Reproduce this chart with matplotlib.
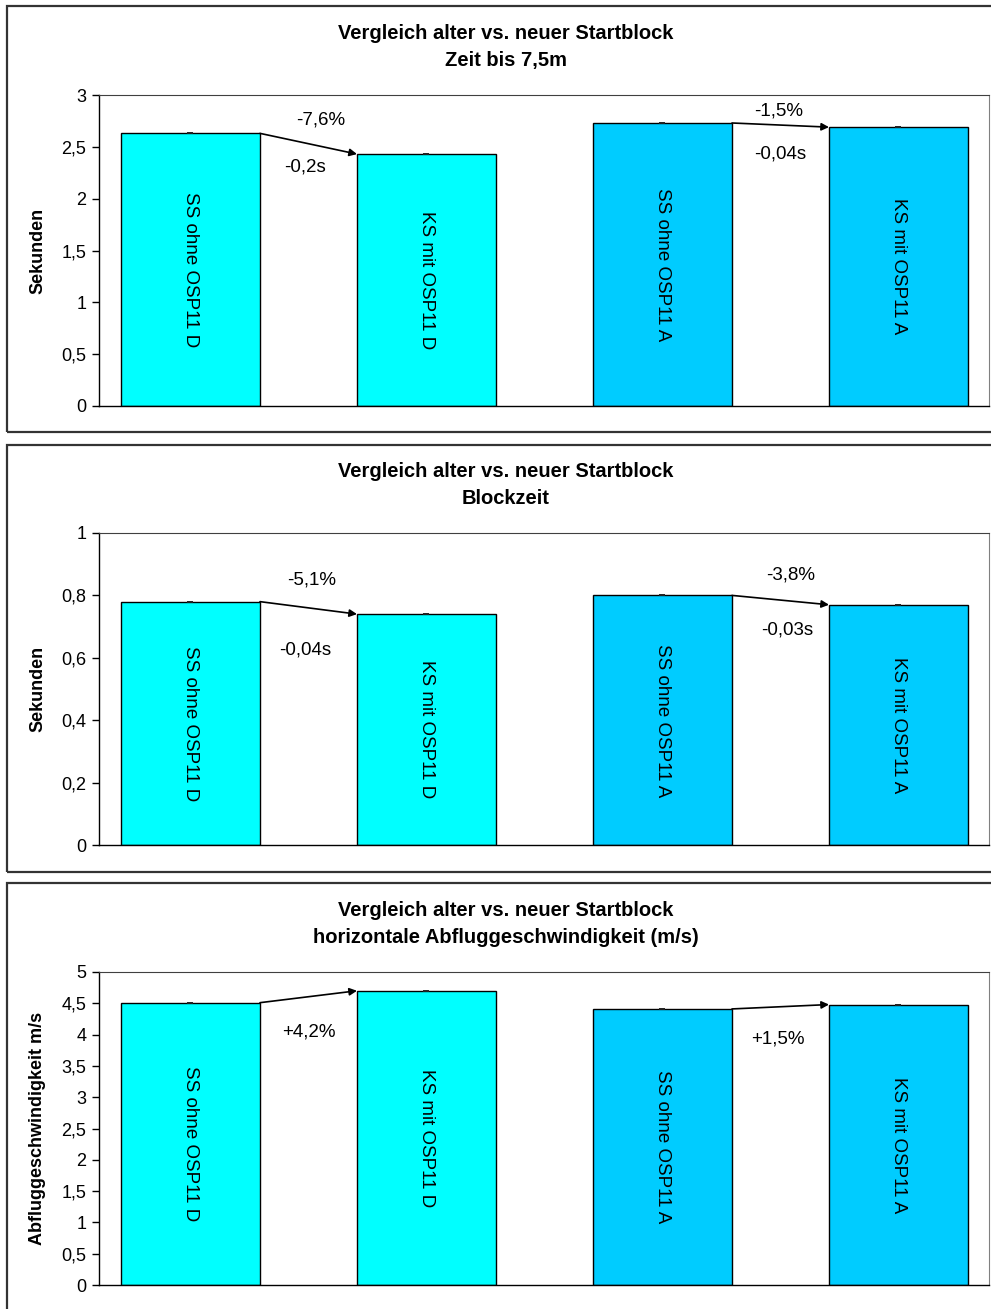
import numpy as np
import matplotlib.pyplot as plt
from matplotlib.patches import Rectangle

plt.rcParams['font.family'] = ['Liberation Sans', 'DejaVu Sans']

# Balken: alter Block (SS) vs. neuer Block (KS), je Athlet D und A
labels = ["SS ohne OSP11 D", "KS mit OSP11 D", "SS ohne OSP11 A", "KS mit OSP11 A"]
colors = ["#00FFFF", "#00FFFF", "#00CCFF", "#00CCFF"]

zeit_75 = [2.63, 2.43, 2.73, 2.69]
blockzeit = [0.78, 0.74, 0.80, 0.77]
abflug = [4.51, 4.70, 4.41, 4.48]

titles = ["Vergleich alter vs. neuer Startblock\nZeit bis 7,5m",
          "Vergleich alter vs. neuer Startblock\nBlockzeit",
          "Vergleich alter vs. neuer Startblock\nhorizontale Abfluggeschwindigkeit (m/s)"]
ylabels = ["Sekunden", "Sekunden", "Abfluggeschwindigkeit m/s"]
ymax = [3, 1, 5]
ysteps = [0.5, 0.2, 0.5]

# Beschriftungen der Pfeile: (Text, x, y) in Datenkoordinaten
notes = [
    [("-7,6%", 0.553, 2.76), ("-0,2s", 0.485, 2.305),
     ("-1,5%", 2.494, 2.846), ("-0,04s", 2.498, 2.431)],
    [("-5,1%", 0.515, 0.849), ("-0,04s", 0.485, 0.625),
     ("-3,8%", 2.544, 0.865), ("-0,03s", 2.528, 0.689)],
    [("+4,2%", 0.502, 4.04), ("+1,5%", 2.489, 3.93)],
]

W, H = 991, 1309
fig = plt.figure(figsize=(W / 100, H / 100), dpi=100)

# Pixelrahmen der Panels und Plotflächen
frames = [(6, 432), (445, 872), (883, 1330)]
plot_boxes = [(95, 406), (533, 845), (972, 1285)]
title_y = [47, 485, 924]

x = np.arange(4)
bw = 0.589


def fmt(v):
    s = ("%g" % round(v, 2)).replace(".", ",")
    return s


for k, data in enumerate([zeit_75, blockzeit, abflug]):
    ftop, fbot = frames[k]
    fig.patches.append(Rectangle((7 / W, 1 - fbot / H), 1.0, (fbot - ftop) / H,
                                 transform=fig.transFigure, fill=False,
                                 edgecolor="#333333", linewidth=1.6))
    fig.text(506 / W, 1 - title_y[k] / H, titles[k], ha="center", va="center",
             fontsize=14.5, fontweight="bold", linespacing=1.55)

    top, bot = plot_boxes[k]
    ax = fig.add_axes([99 / W, 1 - bot / H, 890 / W, (bot - top) / H])
    ax.bar(x, data, width=bw, color=colors, edgecolor="black", linewidth=1.0,
           zorder=2)
    ax.errorbar(x, data, yerr=0, fmt="none", ecolor="#222222", capsize=2.5,
                elinewidth=0.8, capthick=1.2, zorder=3)

    for i in range(4):
        ax.text(x[i], data[i] / 2, labels[i], rotation=-90, ha="center",
                va="center", fontsize=13.5)

    # Pfeile von Balken zu Balken
    for a, b in [(0, 1), (2, 3)]:
        ax.annotate("", xy=(x[b] - bw / 2, data[b]),
                    xytext=(x[a] + bw / 2, data[a]),
                    arrowprops=dict(arrowstyle="-|>", color="black", lw=1.2,
                                    mutation_scale=11, shrinkA=0, shrinkB=0),
                    zorder=4)
    for txt, tx, ty in notes[k]:
        ax.text(tx, ty, txt, ha="center", va="center", fontsize=13.5)

    ax.set_xlim(-0.3877, 3.3835)
    ax.set_ylim(0, ymax[k])
    ticks = np.arange(0, ymax[k] + 1e-9, ysteps[k])
    ax.set_yticks(ticks)
    ax.set_yticklabels([fmt(t) for t in ticks], fontsize=13)
    ax.set_xticks([])
    ax.tick_params(axis="y", direction="out", length=5, width=1, pad=4)
    ax.set_ylabel(ylabels[k], fontsize=13, fontweight="bold")
    ax.yaxis.set_label_coords(-0.0596, 0.5)

    ax.spines["right"].set_color("#808080")
    ax.spines["top"].set_color("#404040")
    for side in ["left", "bottom"]:
        ax.spines[side].set_color("black")
        ax.spines[side].set_linewidth(1.0)

fig.savefig("out.png", dpi=100)
